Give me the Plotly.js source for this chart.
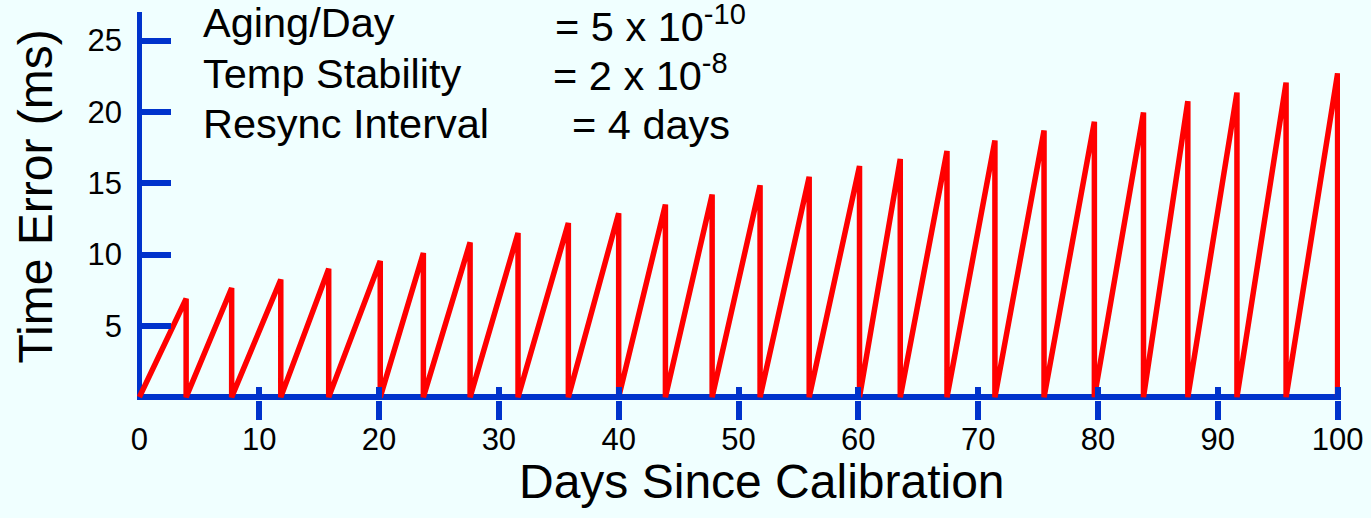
<!DOCTYPE html>
<html>
<head>
<meta charset="utf-8">
<script src="https://cdn.plot.ly/plotly-3.0.1.min.js"></script>
<style>
  html, body { margin: 0; padding: 0; background: #F0FFFF; }
  #chart { width: 1371px; height: 518px; }
</style>
</head>
<body>
<div id="chart"></div>
<script>
// ---- Data ----
// Day on which each resync happens (time error peaks, then drops back to 0)
const resetDays = [3.9, 7.7, 11.8, 15.8, 20.1, 23.7, 27.6, 31.6, 35.8, 40.0,
                   43.9, 47.8, 51.8, 55.9, 60.1, 63.5, 67.4, 71.4, 75.5, 79.7,
                   83.8, 87.5, 91.6, 95.7, 100];
// Peak time error (ms) reached just before each resync
const peakErrors = [6.9, 7.65, 8.25, 9.0, 9.55, 10.1, 10.85, 11.5, 12.2, 12.9,
                    13.5, 14.2, 14.85, 15.45, 16.2, 16.7, 17.25, 18.0, 18.7, 19.3,
                    19.95, 20.75, 21.35, 22.05, 22.7];
const xTickVals = [0, 10, 20, 30, 40, 50, 60, 70, 80, 90, 100];
const xTickLabels = ['0', '10', '20', '30', '40', '50', '60', '70', '80', '90', '100'];
const xMarkVals = [10, 20, 30, 40, 50, 60, 70, 80, 90, 100];
const yTickVals = [5, 10, 15, 20, 25];
const yTickLabels = ['5', '10', '15', '20', '25'];
const noteLabels = ['Aging/Day', 'Temp Stability', 'Resync Interval'];
const noteValues = ['= 5 x 10<sup>-10</sup>', '= 2 x 10<sup>-8</sup>', '= 4 days'];
const xTitle = 'Days Since Calibration';
const yTitle = 'Time Error (ms)';

// ---- Build sawtooth path from the arrays ----
const xs = [0], ys = [0];
resetDays.forEach((d, i) => { xs.push(d, d); ys.push(peakErrors[i], 0); });

// ---- Layout helpers ----
const W = 1371, H = 518;
const M = { l: 137, r: 31, t: 12, b: 118 };
const PW = W - M.l - M.r, PH = H - M.t - M.b;
const px = v => (v - M.l) / PW;          // pixel x -> paper x
const py = v => (M.t + PH - v) / PH;     // pixel y -> paper y

const BLUE = '#0033CC';
const FONT = 'Liberation Sans, Arial, Helvetica, sans-serif';
const BG = '#F0FFFF';

const xRange = [-0.2, 100.2];
const yRange = [-0.2, 27];

const trace = {
  x: xs, y: ys, type: 'scatter', mode: 'lines',
  line: { color: '#FF0000', width: 5.5 },
  showlegend: false, hoverinfo: 'x+y'
};
const helper2 = { x: [], y: [], type: 'scatter', mode: 'lines', xaxis: 'x2', showlegend: false, hoverinfo: 'skip' };
const helper3 = { x: [], y: [], type: 'scatter', mode: 'lines', xaxis: 'x3', showlegend: false, hoverinfo: 'skip' };

const annotations = [];
const leftBase = [38.5, 89.5, 138.5];
const rightBase = [42, 91, 140];
const rightX = [555, 553, 571.5];
noteLabels.forEach((t, i) => {
  annotations.push({
    text: t, xref: 'paper', yref: 'paper', x: px(201), y: py(leftBase[i] + 10),
    xanchor: 'left', yanchor: 'bottom', showarrow: false,
    font: { family: FONT, size: 41.5, color: '#000' }
  });
});
noteValues.forEach((t, i) => {
  annotations.push({
    text: t, xref: 'paper', yref: 'paper', x: px(rightX[i] - 1), y: py(rightBase[i] + 9),
    xanchor: 'left', yanchor: 'bottom', showarrow: false, borderpad: 0,
    font: { family: FONT, size: 41.5, color: '#000' }
  });
});
annotations.push({
  text: xTitle, xref: 'paper', yref: 'paper', x: px(762), y: py(510),
  xanchor: 'center', yanchor: 'bottom', showarrow: false,
  font: { family: FONT, size: 48, color: '#000' }
});
annotations.push({
  text: yTitle, xref: 'paper', yref: 'paper', x: px(35), y: py(196.5),
  xanchor: 'center', yanchor: 'middle', showarrow: false, textangle: -90,
  font: { family: FONT, size: 48, color: '#000' }
});

const layout = {
  width: W, height: H,
  margin: M,
  paper_bgcolor: BG, plot_bgcolor: BG,
  font: { family: FONT, color: '#000' },
  showlegend: false,
  xaxis: {
    range: xRange, showgrid: false, showline: false,
    zeroline: true, zerolinecolor: BLUE, zerolinewidth: 5.5,
    tickmode: 'array', tickvals: xTickVals, ticktext: xTickLabels,
    ticks: '', ticklabelstandoff: 18,
    tickfont: { family: FONT, size: 31, color: '#000' },
    fixedrange: true
  },
  xaxis2: {
    range: xRange, overlaying: 'x', anchor: 'y', side: 'bottom',
    showgrid: false, showline: false, zeroline: false,
    tickmode: 'array', tickvals: xMarkVals, showticklabels: false,
    ticks: 'outside', ticklen: 19, tickwidth: 6, tickcolor: BLUE
  },
  xaxis3: {
    range: xRange, overlaying: 'x', anchor: 'y', side: 'bottom',
    showgrid: false, showline: false, zeroline: false,
    tickmode: 'array', tickvals: xMarkVals, showticklabels: false,
    ticks: 'inside', ticklen: 13, tickwidth: 6, tickcolor: BLUE
  },
  yaxis: {
    range: yRange, showgrid: false, showline: false,
    zeroline: true, zerolinecolor: BLUE, zerolinewidth: 5.5,
    tickmode: 'array', tickvals: yTickVals, ticktext: yTickLabels,
    ticks: 'inside', ticklen: 34, tickwidth: 6, tickcolor: BLUE,
    ticklabelstandoff: 14,
    tickfont: { family: FONT, size: 31, color: '#000' },
    fixedrange: true
  },
  annotations: annotations
};

Plotly.newPlot('chart', [trace, helper2, helper3], layout, { displayModeBar: false, staticPlot: true });
</script>
</body>
</html>
